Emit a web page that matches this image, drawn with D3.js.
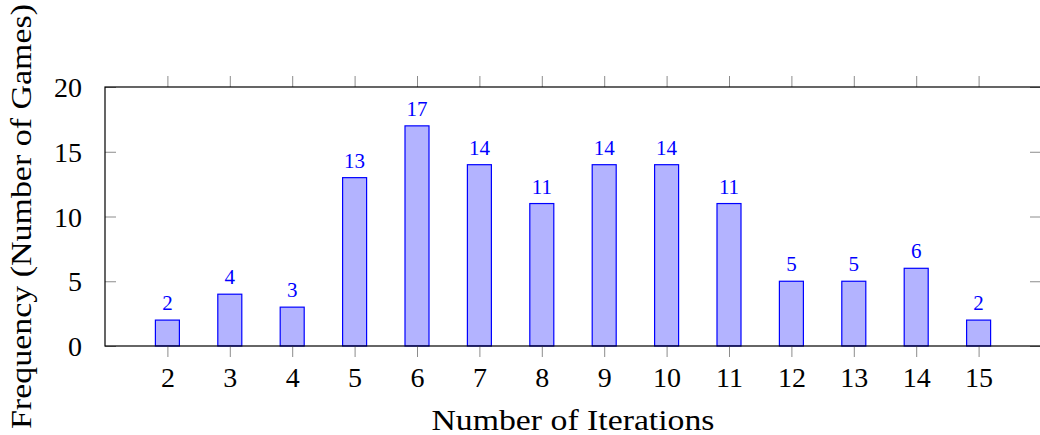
<!DOCTYPE html>
<html>
<head>
<meta charset="utf-8">
<script src="https://cdn.jsdelivr.net/npm/d3@7"></script>
</head>
<body style="margin:0">
<svg id="chart" width="1040" height="435" font-family="Liberation Serif"></svg>
<script>
const iterations = [2, 3, 4, 5, 6, 7, 8, 9, 10, 11, 12, 13, 14, 15];
const frequency  = [2, 4, 3, 13, 17, 14, 11, 14, 14, 11, 5, 5, 6, 2];
const yTicks = [0, 5, 10, 15, 20];
const xTitle = "Number of Iterations";
const yTitle = "Frequency (Number of Games)";

const svg = d3.select("#chart");
const L = 105, R = 1041, T = 87, B = 346;
const serif = (sel) => sel.style("font-family", () => '"Liberation Serif"').attr("font-family", "Liberation Serif");

const x = d3.scaleLinear().domain([1, 16]).range([L, R]);
const y = d3.scaleLinear().domain([0, 20]).range([B, T]);
const barW = 24;

// bars
svg.append("g").selectAll("rect").data(iterations).join("rect")
  .attr("x", (d) => x(d) - barW / 2)
  .attr("y", (d, i) => y(frequency[i]))
  .attr("width", barW)
  .attr("height", (d, i) => y(0) - y(frequency[i]))
  .attr("fill", "#b3b3ff")
  .attr("stroke", "#0000ff")
  .attr("stroke-width", 1.2);

// value labels
svg.append("g").selectAll("text").data(iterations).join("text")
  .attr("x", (d) => x(d))
  .attr("y", (d, i) => y(frequency[i]) - 10)
  .attr("text-anchor", "middle")
  .attr("font-size", 21)
  .attr("fill", "#0000ff")
  .call(serif)
  .text((d, i) => frequency[i]);

// axes via d3
const tickColor = "#8c8c8c";
const xBottom = svg.append("g").attr("transform", `translate(0,${B})`)
  .call(d3.axisBottom(x).tickValues(iterations).tickFormat(d3.format("d")).tickSize(11).tickPadding(10));
const xTop = svg.append("g").attr("transform", `translate(0,${T})`)
  .call(d3.axisTop(x).tickValues(iterations).tickFormat("").tickSize(11));
const yLeft = svg.append("g").attr("transform", `translate(${L},0)`)
  .call(d3.axisLeft(y).tickValues(yTicks).tickSize(-11).tickPadding(23));
const yRight = svg.append("g").attr("transform", `translate(${R},0)`)
  .call(d3.axisRight(y).tickValues(yTicks).tickFormat("").tickSize(-11));

[xBottom, xTop, yLeft, yRight].forEach(g => {
  g.attr("font-family", "Liberation Serif").attr("font-size", 28);
  g.select(".domain").remove();
  g.selectAll(".tick line").attr("stroke", tickColor).attr("stroke-width", 1);
  g.selectAll(".tick text").attr("font-size", 28).attr("fill", "#000").call(serif);
});
yLeft.selectAll(".tick text").attr("dy", "0.34em");
xBottom.selectAll(".tick text").attr("dy", "0.72em");

// frame
svg.append("rect")
  .attr("x", L).attr("y", T).attr("width", R - L).attr("height", B - T)
  .attr("fill", "none").attr("stroke", "#000").attr("stroke-width", 1.2);

// titles
svg.append("text")
  .attr("x", (L + R) / 2).attr("y", 430)
  .attr("text-anchor", "middle")
  .attr("font-size", 29)
  .call(serif)
  .attr("textLength", 283).attr("lengthAdjust", "spacingAndGlyphs")
  .text(xTitle);

svg.append("text")
  .attr("transform", `translate(31,${(T + B) / 2}) rotate(-90)`)
  .attr("text-anchor", "middle")
  .attr("font-size", 29)
  .call(serif)
  .attr("textLength", 425).attr("lengthAdjust", "spacingAndGlyphs")
  .text(yTitle);
</script>
</body>
</html>
